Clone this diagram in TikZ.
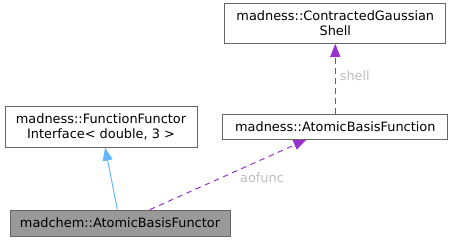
\documentclass[tikz,border=0pt]{standalone}
\usepackage{fontspec}
\setmainfont{DejaVu Sans}
\usepackage{xcolor}
\usepackage{tikz}
\usetikzlibrary{arrows.meta,positioning}

\definecolor{edgeblue}{HTML}{63B8FF}
\definecolor{edgepurple}{HTML}{9A32CD}
\definecolor{boxline}{HTML}{666666}
\definecolor{boxgrey}{HTML}{999999}
\definecolor{labelgrey}{HTML}{BEBEBE}

\begin{document}
\begin{tikzpicture}[x=1pt,y=1pt,font=\fontsize{12.9}{15}\selectfont]
        \tikzstyle{cls} = [draw=boxline, line width=0.8pt, fill=white, align=center, inner sep=0pt, minimum height=26pt]
        \tikzstyle{inherit} = [-{Triangle[length=13pt,width=10pt]}, color=edgeblue, line width=1pt]
        \tikzstyle{usage} = [-{Triangle[length=13pt,width=10pt]}, color=edgepurple, line width=1pt, dash pattern=on 5.5pt off 4.5pt]
        \tikzstyle{role} = [text=labelgrey, inner sep=4pt]
        \useasboundingbox (0,0) rectangle (453,-241);

        \node[cls, fill=boxgrey, minimum width=220pt] (functor) at (120,-223) {madchem::AtomicBasisFunctor};
        \node[cls, minimum width=192pt, minimum height=41pt, above = 62pt of functor, xshift=-19pt] (iface) {madness::FunctionFunctor\\Interface< double, 3 >};
        \node[cls, minimum width=225pt, minimum height=25pt, right = 25pt of iface] (basisfn) {madness::AtomicBasisFunction};
        \node[cls, minimum width=221pt, minimum height=40pt, above = 70pt of basisfn] (shell) {madness::ContractedGaussian\\Shell};

        \draw [inherit] (functor) -- (iface);
        \draw [usage] (functor) -- node[role, pos=0.56, anchor=north west, inner sep=2pt] {aofunc} (basisfn);
        \draw [usage] (basisfn) -- node[role, pos=0.55, anchor=west] {shell} (shell);
        \end{tikzpicture}
\end{document}
